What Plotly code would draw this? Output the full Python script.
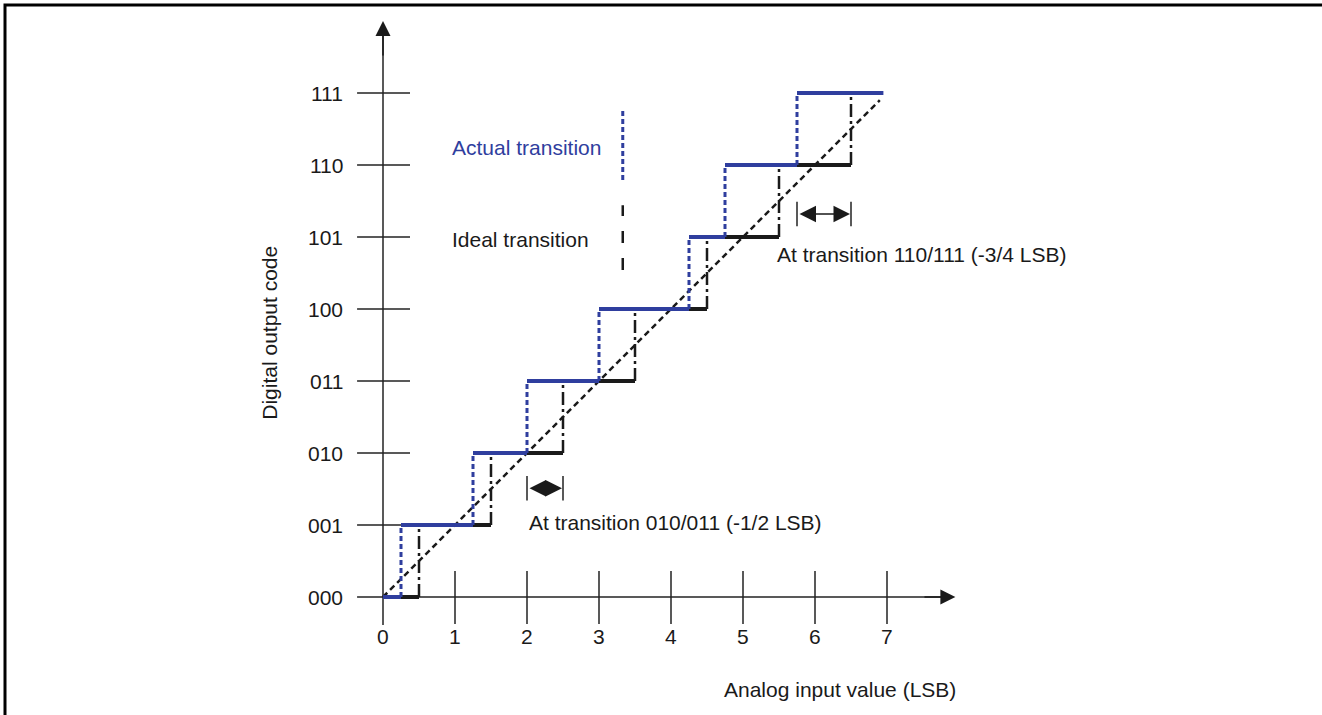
import plotly.graph_objects as go

# ---------------- data ----------------
code_labels = ["000", "001", "010", "011", "100", "101", "110", "111"]
code_values = [0, 1, 2, 3, 4, 5, 6, 7]
x_tick_values = [0, 1, 2, 3, 4, 5, 6, 7]
x_tick_labels = ["0", "1", "2", "3", "4", "5", "6", "7"]
ideal_transitions = [0.5, 1.5, 2.5, 3.5, 4.5, 5.5, 6.5]
actual_transitions = [0.25, 1.25, 2.0, 3.0, 4.25, 4.75, 5.75]
actual_last_end = 6.95
ideal_line = {"x": [0, 6.9], "y": [0, 6.9]}

# ---------------- style ----------------
W, H = 1322, 715
X0_PX, Y0_PX, UNIT = 383, 597, 72.0
BLUE = "#2f3e9e"
BLACK = "#1a1a1a"
AXIS = "#222222"
FONT = "Liberation Sans, Arial, sans-serif"
FS = 21

x_range = [-X0_PX / UNIT, (W - X0_PX) / UNIT]
y_range = [(Y0_PX - H) / UNIT, Y0_PX / UNIT]

fig = go.Figure()

# axes lines + tick marks (crossing ticks)
tx, ty = [], []
for v in x_tick_values[1:]:
    tx += [v, v, None]
    ty += [0.36, -0.375, None]
for v in code_values[1:]:
    tx += [-0.36, 0.375, None]
    ty += [v, v, None]
tx += [-0.36, 7.75, None, 0, 0, None]
ty += [0, 0, None, -0.39, 7.8, None]
fig.add_trace(go.Scatter(x=tx, y=ty, mode="lines", line=dict(color=AXIS, width=1.5),
                         hoverinfo="skip", showlegend=False))

# ideal staircase horizontals (black)
starts = [0] + ideal_transitions[:-1]
ends = ideal_transitions
hx, hy = [], []
for k, (s, e) in enumerate(zip(starts, ends)):
    hx += [s, e, None]
    hy += [code_values[k], code_values[k], None]
fig.add_trace(go.Scatter(x=hx, y=hy, mode="lines", line=dict(color=BLACK, width=4),
                         hoverinfo="skip", showlegend=False))

# ideal diagonal
fig.add_trace(go.Scatter(x=ideal_line["x"], y=ideal_line["y"], mode="lines",
                         line=dict(color=BLACK, width=2.5, dash="6px,4px"),
                         hoverinfo="skip", showlegend=False))

# ideal verticals (dash-dot)
vx, vy = [], []
for k, t in enumerate(ideal_transitions):
    vx += [t, t, None]
    vy += [code_values[k], code_values[k + 1], None]
fig.add_trace(go.Scatter(x=vx, y=vy, mode="lines",
                         line=dict(color=BLACK, width=2.5, dash="13px,4px,3px,4px"),
                         hoverinfo="skip", showlegend=False))

# actual staircase horizontals (blue)
a_starts = [0] + actual_transitions
a_ends = actual_transitions + [actual_last_end]
bx, by = [], []
for k, (s, e) in enumerate(zip(a_starts, a_ends)):
    bx += [s, e, None]
    by += [code_values[k], code_values[k], None]
fig.add_trace(go.Scatter(x=bx, y=by, mode="lines", line=dict(color=BLUE, width=4),
                         hoverinfo="skip", showlegend=False))

# actual verticals (dotted blue)
avx, avy = [], []
for k, t in enumerate(actual_transitions):
    avx += [t, t, None]
    avy += [code_values[k], code_values[k + 1], None]
fig.add_trace(go.Scatter(x=avx, y=avy, mode="lines",
                         line=dict(color=BLUE, width=3, dash="5px,3px"),
                         hoverinfo="skip", showlegend=False))

# key lines
fig.add_trace(go.Scatter(x=[3.33, 3.33], y=[5.79, 6.76], mode="lines",
                         line=dict(color=BLUE, width=3, dash="5px,3px"),
                         hoverinfo="skip", showlegend=False))
fig.add_trace(go.Scatter(x=[3.33, 3.33], y=[4.54, 5.44], mode="lines",
                         line=dict(color=BLACK, width=2.5, dash="12px,15px"),
                         hoverinfo="skip", showlegend=False))

# interval brackets
brackets = [(actual_transitions[2], ideal_transitions[2], 1.51),
            (actual_transitions[6], ideal_transitions[6], 5.32)]
brx, bry = [], []
for (a, b, yc) in brackets:
    for xv in (a, b):
        brx += [xv, xv, None]
        bry += [yc - 0.17, yc + 0.17, None]
fig.add_trace(go.Scatter(x=brx, y=bry, mode="lines", line=dict(color=AXIS, width=1.5),
                         hoverinfo="skip", showlegend=False))

annotations = []
for (a, b, yc) in brackets:
    annotations.append(dict(x=b, y=yc, ax=a, ay=yc, xref="x", yref="y", axref="x", ayref="y",
                            text="", showarrow=True, arrowhead=2, arrowside="end+start",
                            arrowsize=2.2, arrowwidth=1.5, arrowcolor=BLACK, standoff=1,
                            startstandoff=1))
# axis arrows
annotations.append(dict(x=0, y=8.0, ax=0, ay=7.5, xref="x", yref="y", axref="x", ayref="y",
                        text="", showarrow=True, arrowhead=2, arrowsize=2.0, arrowwidth=1.5,
                        arrowcolor=BLACK))
annotations.append(dict(x=7.95, y=0, ax=7.5, ay=0, xref="x", yref="y", axref="x", ayref="y",
                        text="", showarrow=True, arrowhead=2, arrowsize=2.0, arrowwidth=1.5,
                        arrowcolor=BLACK))


def txt(x, y, s, color=BLACK, xanchor="left", **kw):
    d = dict(x=x, y=y, xref="x", yref="y", text=s, showarrow=False, xanchor=xanchor,
             yanchor="middle", font=dict(family=FONT, size=FS, color=color))
    d.update(kw)
    annotations.append(d)


txt(0.93, 6.25, "Actual transition", color=BLUE)
txt(0.93, 4.96, "Ideal transition")
txt(2.0, 1.03, "At transition 010/011 (-1/2 LSB)")
txt(5.44, 4.76, "At transition 110/111 (-3/4 LSB)")
txt(6.35, -1.29, "Analog input value (LSB)", xanchor="center")
txt(-1.57, 3.67, "Digital output code", xanchor="center", textangle=-90)

# tick labels
for v, lab in zip(x_tick_values, x_tick_labels):
    txt(v, -0.555, lab, xanchor="center")
for v, lab in zip(code_values, code_labels):
    txt(-0.53, v, lab, xanchor="right")

fig.update_layout(
    width=W, height=H, margin=dict(l=0, r=0, t=0, b=0),
    paper_bgcolor="white", plot_bgcolor="white",
    xaxis=dict(range=x_range, visible=False, fixedrange=True),
    yaxis=dict(range=y_range, visible=False, fixedrange=True),
    annotations=annotations,
    shapes=[dict(type="path", xref="paper", yref="paper",
                 path=f"M {5/W} 0 L {5/W} {1-5/H} L 1 {1-5/H}",
                 line=dict(color="black", width=3))],
)
fig.write_html("out.html", config={"displayModeBar": False},
               post_script="document.body.style.margin='0';document.body.style.overflow='hidden';")
